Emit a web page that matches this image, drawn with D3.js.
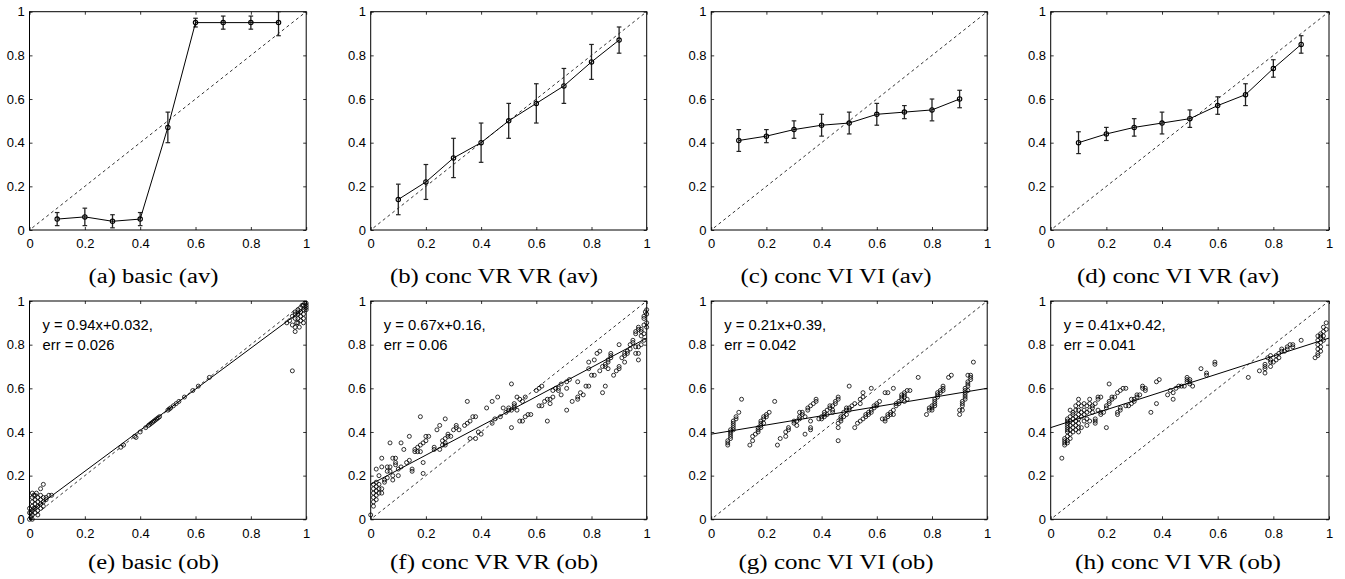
<!DOCTYPE html>
<html>
<head>
<meta charset="utf-8">
<script src="https://cdn.jsdelivr.net/npm/d3@7"></script>
<style>
  html, body { margin: 0; padding: 0; background: #fff; }
  svg { display: block; }
  .tick text { font-family: "Liberation Sans", Arial, sans-serif; font-size: 13px; fill: #000; }
  .caption { font-family: "Liberation Serif", "DejaVu Serif", serif; font-size: 20px; fill: #000; }
  .note { font-family: "Liberation Sans", Arial, sans-serif; font-size: 14.8px; fill: #000; }
</style>
</head>
<body>
<svg id="chart" width="1345" height="579"></svg>
<script>
// ---- data ----
const tickValues = [0, 0.2, 0.4, 0.6, 0.8, 1];
const tickLabels = ["0", "0.2", "0.4", "0.6", "0.8", "1"];

const avX = [0.1, 0.2, 0.3, 0.4, 0.5, 0.6, 0.7, 0.8, 0.9];

const basicAv    = [0.05, 0.06, 0.04, 0.05, 0.47, 0.95, 0.95, 0.95, 0.95];
const basicAvLo  = [0.02, 0.02, 0.01, 0.02, 0.40, 0.93, 0.92, 0.92, 0.89];
const basicAvHi  = [0.08, 0.10, 0.07, 0.08, 0.54, 0.97, 0.98, 0.98, 1.00];

const vrvrAv     = [0.14, 0.22, 0.33, 0.40, 0.50, 0.58, 0.66, 0.77, 0.87];
const vrvrAvLo   = [0.07, 0.14, 0.24, 0.31, 0.42, 0.49, 0.58, 0.69, 0.81];
const vrvrAvHi   = [0.21, 0.30, 0.42, 0.49, 0.58, 0.67, 0.74, 0.85, 0.93];

const viviAv     = [0.41, 0.43, 0.46, 0.48, 0.49, 0.53, 0.54, 0.55, 0.60];
const viviAvLo   = [0.36, 0.40, 0.42, 0.43, 0.44, 0.48, 0.51, 0.50, 0.56];
const viviAvHi   = [0.46, 0.46, 0.50, 0.53, 0.54, 0.58, 0.57, 0.60, 0.64];

const vivrAv     = [0.40, 0.44, 0.47, 0.49, 0.51, 0.57, 0.62, 0.74, 0.85];
const vivrAvLo   = [0.35, 0.41, 0.43, 0.44, 0.47, 0.53, 0.57, 0.70, 0.81];
const vivrAvHi   = [0.45, 0.47, 0.51, 0.54, 0.55, 0.61, 0.67, 0.78, 0.89];

const basicOb = [
  [0,0],[0.005,0.01],[0.01,0],[0,0.03],[0,0.05],[0.01,0.02],[0.01,0.04],[0.01,0.06],[0.01,0.08],[0.01,0.1],[0.01,0.12],
  [0.015,0.11],[0.02,0.03],[0.02,0.05],[0.02,0.07],[0.02,0.09],[0.02,0.11],[0.025,0.12],[0.03,0.02],[0.03,0.04],
  [0.03,0.06],[0.03,0.08],[0.03,0.1],[0.04,0.05],[0.04,0.07],[0.04,0.09],[0.04,0.11],[0.04,0.14],[0.05,0.16],
  [0.05,0.1],[0.05,0.08],[0.05,0.06],[0.06,0.09],[0.06,0.1],[0.07,0.11],[0.08,0.11],[0.005,0.03],[0.015,0.05],
  [0.33,0.33],[0.34,0.34],[0.38,0.38],[0.385,0.375],[0.40,0.40],[0.42,0.42],[0.43,0.43],[0.435,0.435],[0.44,0.44],
  [0.445,0.445],[0.45,0.45],[0.455,0.455],[0.46,0.46],[0.465,0.465],[0.47,0.47],[0.50,0.50],[0.505,0.505],[0.51,0.51],
  [0.52,0.52],[0.53,0.53],[0.54,0.54],[0.56,0.56],[0.59,0.59],[0.61,0.61],[0.65,0.65],
  [0.93,0.9],[0.94,0.91],[0.95,0.93],[0.95,0.89],[0.96,0.86],[0.96,0.88],[0.96,0.92],[0.96,0.94],[0.96,0.95],
  [0.965,0.9],[0.97,0.9],[0.97,0.92],[0.97,0.94],[0.97,0.95],[0.97,0.96],[0.975,0.88],[0.98,0.91],[0.98,0.93],
  [0.98,0.95],[0.98,0.97],[0.985,0.98],[0.99,0.9],[0.99,0.92],[0.99,0.94],[0.99,0.96],[0.99,0.98],[0.995,0.99],
  [1,0.96],[1,0.97],[1,0.98],[1,0.99],[0.95,0.68]
];

const vrvrOb = [
  [0,0.02],[0.01,0.06],[0.01,0.08],[0.01,0.1],[0.01,0.12],[0.01,0.14],[0.01,0.16],[0.02,0.09],[0.02,0.11],[0.02,0.13],
  [0.02,0.15],[0.02,0.17],[0.02,0.23],[0.03,0.12],[0.03,0.14],[0.03,0.16],[0.03,0.2],[0.04,0.12],[0.04,0.14],[0.04,0.28],
  [0.04,0.24],[0.05,0.17],[0.05,0.18],[0.06,0.19],[0.06,0.22],[0.06,0.24],[0.07,0.24],[0.07,0.35],[0.07,0.22],[0.08,0.18],
  [0.08,0.2],[0.08,0.28],[0.09,0.26],[0.09,0.28],[0.09,0.25],[0.1,0.2],[0.1,0.23],[0.11,0.24],[0.11,0.35],[0.12,0.32],
  [0.13,0.26],[0.14,0.27],[0.14,0.38],[0.15,0.22],[0.15,0.23],[0.16,0.31],[0.16,0.32],[0.17,0.31],[0.17,0.33],[0.18,0.31],
  [0.18,0.34],[0.18,0.47],[0.19,0.35],[0.19,0.21],[0.19,0.26],[0.2,0.38],[0.2,0.36],[0.21,0.38],[0.23,0.32],[0.23,0.33],
  [0.24,0.41],[0.25,0.32],[0.25,0.43],[0.26,0.34],[0.26,0.36],[0.27,0.35],[0.27,0.37],[0.27,0.34],[0.27,0.46],[0.28,0.38],
  [0.28,0.39],[0.29,0.38],[0.3,0.41],[0.31,0.43],[0.31,0.42],[0.32,0.41],[0.34,0.43],[0.35,0.44],[0.35,0.54],[0.36,0.45],
  [0.36,0.37],[0.37,0.47],[0.38,0.37],[0.38,0.47],[0.39,0.4],[0.4,0.39],[0.42,0.51],[0.44,0.54],[0.44,0.44],[0.45,0.46],
  [0.46,0.56],[0.47,0.47],[0.48,0.51],[0.49,0.49],[0.5,0.5],[0.5,0.51],[0.51,0.62],[0.51,0.42],[0.51,0.5],[0.52,0.52],
  [0.52,0.53],[0.52,0.51],[0.53,0.5],[0.53,0.56],[0.54,0.55],[0.54,0.45],[0.55,0.45],[0.55,0.54],[0.56,0.47],[0.56,0.56],
  [0.57,0.48],[0.58,0.48],[0.6,0.59],[0.61,0.52],[0.61,0.6],[0.62,0.61],[0.62,0.52],[0.63,0.54],[0.64,0.55],[0.64,0.45],
  [0.65,0.53],[0.65,0.55],[0.66,0.56],[0.66,0.59],[0.67,0.6],[0.68,0.6],[0.68,0.59],[0.69,0.57],[0.69,0.62],[0.71,0.5],
  [0.71,0.6],[0.71,0.63],[0.72,0.64],[0.73,0.54],[0.75,0.63],[0.75,0.55],[0.75,0.56],[0.76,0.58],[0.77,0.57],[0.78,0.61],
  [0.79,0.61],[0.79,0.69],[0.79,0.72],[0.8,0.66],[0.81,0.66],[0.81,0.73],[0.82,0.76],[0.83,0.77],[0.83,0.68],[0.84,0.58],
  [0.84,0.7],[0.85,0.61],[0.85,0.7],[0.85,0.71],[0.86,0.69],[0.86,0.73],[0.86,0.72],[0.87,0.74],[0.87,0.75],[0.87,0.76],
  [0.88,0.66],[0.89,0.68],[0.9,0.8],[0.9,0.69],[0.9,0.7],[0.91,0.74],[0.92,0.72],[0.92,0.75],[0.92,0.76],[0.93,0.76],
  [0.93,0.77],[0.94,0.78],[0.94,0.8],[0.95,0.81],[0.95,0.82],[0.96,0.76],[0.96,0.79],[0.96,0.86],[0.96,0.85],[0.97,0.73],
  [0.97,0.76],[0.97,0.79],[0.97,0.87],[0.97,0.88],[0.98,0.84],[0.98,0.86],[0.98,0.87],[0.98,0.8],[0.99,0.89],[0.99,0.82],
  [0.99,0.85],[0.99,0.92],[0.99,0.93],[1,0.94],[1,0.96],[1,0.9],[1,0.88],[0.995,0.95]
];

const viviOb = [
  [0.06,0.34],[0.06,0.35],[0.06,0.36],[0.07,0.37],[0.07,0.38],[0.07,0.39],[0.07,0.4],[0.07,0.41],[0.08,0.41],[0.08,0.42],
  [0.08,0.43],[0.08,0.44],[0.08,0.45],[0.09,0.46],[0.09,0.47],[0.1,0.49],[0.11,0.55],
  [0.14,0.34],[0.15,0.36],[0.15,0.38],[0.16,0.39],[0.17,0.4],[0.17,0.41],[0.17,0.42],[0.18,0.42],[0.18,0.43],[0.18,0.44],
  [0.18,0.45],[0.19,0.44],[0.19,0.46],[0.19,0.47],[0.2,0.47],[0.2,0.48],[0.21,0.49],
  [0.23,0.54],[0.24,0.34],[0.25,0.37],[0.27,0.38],[0.27,0.4],[0.28,0.41],[0.28,0.42],
  [0.3,0.44],[0.3,0.45],[0.31,0.43],[0.31,0.45],[0.32,0.46],[0.32,0.47],[0.32,0.49],[0.33,0.48],[0.33,0.49],[0.34,0.47],
  [0.34,0.39],[0.35,0.5],[0.35,0.51],[0.36,0.52],[0.36,0.42],[0.36,0.41],[0.36,0.45],[0.37,0.53],[0.38,0.54],[0.38,0.55],
  [0.39,0.46],[0.4,0.46],[0.4,0.47],[0.41,0.47],[0.41,0.48],[0.41,0.49],[0.42,0.5],[0.42,0.48],[0.43,0.51],[0.43,0.52],
  [0.44,0.49],[0.44,0.5],[0.44,0.52],[0.45,0.53],[0.45,0.54],[0.46,0.55],[0.46,0.56],
  [0.46,0.36],[0.46,0.42],[0.46,0.44],[0.47,0.45],[0.47,0.46],[0.47,0.47],[0.48,0.47],[0.48,0.49],[0.49,0.48],[0.49,0.5],
  [0.49,0.51],[0.5,0.5],[0.5,0.51],[0.5,0.61],[0.51,0.52],[0.52,0.42],[0.52,0.53],[0.53,0.44],[0.54,0.45],[0.54,0.53],
  [0.54,0.55],[0.55,0.46],[0.55,0.56],[0.55,0.58],[0.56,0.47],[0.56,0.48],[0.57,0.48],[0.57,0.49],[0.58,0.49],[0.58,0.5],
  [0.58,0.6],[0.59,0.51],[0.59,0.52],[0.6,0.52],[0.6,0.53],[0.61,0.54],
  [0.62,0.46],[0.63,0.45],[0.63,0.46],[0.63,0.58],[0.64,0.47],[0.64,0.48],[0.64,0.58],[0.65,0.48],[0.65,0.49],[0.66,0.48],
  [0.66,0.5],[0.66,0.6],[0.67,0.52],[0.67,0.53],[0.68,0.53],[0.68,0.54],[0.69,0.55],[0.69,0.56],[0.69,0.57],[0.7,0.54],
  [0.7,0.56],[0.7,0.57],[0.7,0.58],[0.71,0.55],[0.71,0.59],[0.72,0.59],[0.75,0.65],
  [0.78,0.48],[0.79,0.5],[0.79,0.51],[0.8,0.5],[0.8,0.51],[0.8,0.52],[0.81,0.52],[0.81,0.53],[0.81,0.54],[0.81,0.55],
  [0.82,0.56],[0.82,0.57],[0.82,0.58],[0.83,0.58],[0.83,0.59],[0.84,0.59],[0.84,0.6],[0.84,0.61],[0.86,0.65],[0.87,0.66],
  [0.9,0.48],[0.9,0.5],[0.91,0.5],[0.91,0.52],[0.91,0.53],[0.91,0.54],[0.92,0.55],[0.92,0.56],[0.92,0.57],[0.92,0.58],
  [0.92,0.59],[0.92,0.6],[0.93,0.59],[0.93,0.61],[0.93,0.62],[0.93,0.63],[0.93,0.66],[0.94,0.64],[0.94,0.65],[0.94,0.66],
  [0.95,0.72]
];

const vivrOb = [
  [0.04,0.28],[0.05,0.34],[0.05,0.35],[0.05,0.36],[0.05,0.37],[0.06,0.35],[0.06,0.36],[0.06,0.38],[0.06,0.4],[0.06,0.41],
  [0.06,0.42],[0.06,0.43],[0.06,0.44],[0.06,0.45],[0.06,0.46],[0.07,0.37],[0.07,0.39],[0.07,0.41],[0.07,0.43],[0.07,0.45],
  [0.07,0.47],[0.07,0.5],[0.08,0.4],[0.08,0.42],[0.08,0.44],[0.08,0.46],[0.08,0.48],[0.08,0.49],[0.09,0.41],[0.09,0.43],
  [0.09,0.45],[0.09,0.47],[0.09,0.5],[0.09,0.52],[0.1,0.4],[0.1,0.42],[0.1,0.44],[0.1,0.46],[0.1,0.48],[0.1,0.5],
  [0.1,0.53],[0.1,0.55],[0.11,0.42],[0.11,0.47],[0.11,0.49],[0.11,0.52],[0.12,0.45],[0.12,0.48],[0.12,0.5],[0.12,0.53],
  [0.13,0.43],[0.13,0.46],[0.13,0.49],[0.13,0.52],[0.14,0.45],[0.14,0.5],[0.14,0.53],[0.14,0.55],[0.15,0.49],[0.15,0.51],
  [0.15,0.52],[0.16,0.44],[0.16,0.45],[0.16,0.46],[0.16,0.53],[0.17,0.5],[0.17,0.55],[0.17,0.56],[0.18,0.48],[0.18,0.49],
  [0.18,0.56],[0.19,0.49],[0.2,0.42],[0.2,0.51],[0.2,0.52],[0.21,0.53],[0.21,0.62],[0.21,0.54],[0.22,0.55],[0.22,0.56],
  [0.23,0.56],[0.24,0.48],[0.24,0.49],[0.24,0.58],[0.25,0.5],[0.25,0.51],[0.25,0.59],[0.26,0.6],[0.27,0.6],[0.27,0.52],
  [0.28,0.52],[0.29,0.53],[0.29,0.55],[0.3,0.54],[0.3,0.55],[0.31,0.56],[0.31,0.57],[0.32,0.57],[0.33,0.6],[0.33,0.61],
  [0.34,0.59],[0.34,0.6],[0.36,0.49],[0.38,0.53],[0.38,0.63],[0.39,0.64],[0.42,0.57],[0.43,0.59],[0.44,0.55],[0.44,0.58],
  [0.45,0.6],[0.46,0.61],[0.47,0.61],[0.48,0.61],[0.49,0.63],[0.49,0.64],[0.49,0.65],[0.5,0.62],[0.5,0.63],[0.5,0.64],
  [0.51,0.61],[0.54,0.69],[0.56,0.66],[0.56,0.67],[0.59,0.71],[0.59,0.72],[0.71,0.65],[0.75,0.68],[0.77,0.67],[0.77,0.69],
  [0.77,0.7],[0.77,0.71],[0.78,0.74],[0.79,0.7],[0.79,0.72],[0.79,0.73],[0.79,0.75],[0.8,0.72],[0.81,0.73],[0.81,0.75],
  [0.82,0.74],[0.82,0.76],[0.83,0.77],[0.83,0.78],[0.84,0.77],[0.85,0.78],[0.85,0.79],[0.86,0.8],[0.87,0.8],[0.87,0.79],
  [0.9,0.82],[0.95,0.74],[0.96,0.75],[0.96,0.76],[0.96,0.78],[0.96,0.8],[0.96,0.82],[0.96,0.84],[0.97,0.77],[0.97,0.79],
  [0.97,0.81],[0.97,0.83],[0.97,0.84],[0.97,0.85],[0.98,0.82],[0.98,0.84],[0.98,0.86],[0.98,0.88],[0.99,0.87],[0.99,0.9]
];

const fitSlope     = [0.94, 0.67, 0.21, 0.41];
const fitIntercept = [0.032, 0.16, 0.39, 0.42];
const fitErr       = ["0.026", "0.06", "0.042", "0.041"];

const topCaptions    = ["(a) basic (av)", "(b) conc VR VR (av)", "(c) conc VI VI (av)", "(d) conc VI VR (av)"];
const bottomCaptions = ["(e) basic (ob)", "(f) conc VR VR (ob)", "(g) conc VI VI (ob)", "(h) conc VI VR (ob)"];

// ---- layout ----
const svg = d3.select("#chart");
const colLeft  = [29.5, 370.7, 711.2, 1050.7];
const colRight = [306.2, 646.7, 987.2, 1329];
const rowTop = [11.7, 301];
const rowBottom = [230, 519.3];
const captionX = [153.5, 494, 836, 1178];
const topCaptionWidth = [130, 208, 191, 202];
const bottomCaptionWidth = [131, 208, 195, 206];
const captionY = [282.5, 569];

function panel(col, row) {
  const x = d3.scaleLinear().domain([0, 1]).range([colLeft[col], colRight[col]]);
  const y = d3.scaleLinear().domain([0, 1]).range([rowBottom[row], rowTop[row]]);
  const g = svg.append("g");
  const fmt = (d) => tickLabels[tickValues.indexOf(d)];

  // inward ticks on all four sides, labels on left and bottom
  const bottom = g.append("g").attr("transform", `translate(0,${rowBottom[row]})`)
    .call(d3.axisBottom(x).tickValues(tickValues).tickFormat(fmt).tickSizeInner(-3).tickSizeOuter(0).tickPadding(6));
  const left = g.append("g").attr("transform", `translate(${colLeft[col]},0)`)
    .call(d3.axisLeft(y).tickValues(tickValues).tickFormat(fmt).tickSizeInner(-3).tickSizeOuter(0).tickPadding(6));
  g.append("g").attr("transform", `translate(0,${rowTop[row]})`)
    .call(d3.axisTop(x).tickValues(tickValues).tickFormat("").tickSizeInner(-3).tickSizeOuter(0));
  g.append("g").attr("transform", `translate(${colRight[col]},0)`)
    .call(d3.axisRight(y).tickValues(tickValues).tickFormat("").tickSizeInner(-3).tickSizeOuter(0));
  g.selectAll(".domain").remove();
  g.selectAll(".tick line").attr("stroke", "#000").attr("stroke-width", 0.8);
  bottom.selectAll(".tick text").attr("dy", "0.95em");
  left.selectAll(".tick text").attr("dx", "0.1em");

  g.append("rect")
    .attr("x", x(0)).attr("y", y(1))
    .attr("width", x(1) - x(0)).attr("height", y(0) - y(1))
    .attr("fill", "none").attr("stroke", "#000").attr("stroke-width", 1);

  // identity diagonal
  g.append("line")
    .attr("x1", x(0.01)).attr("y1", y(0.01)).attr("x2", x(1)).attr("y2", y(1))
    .attr("stroke", "#000").attr("stroke-width", 0.8).attr("stroke-dasharray", "3,3");
  return { g, x, y };
}

function caption(col, row, label, width) {
  svg.append("text").attr("class", "caption").attr("text-anchor", "middle")
    .attr("x", captionX[col]).attr("y", captionY[row])
    .attr("textLength", width).attr("lengthAdjust", "spacingAndGlyphs")
    .text(label);
}

function averagePanel(col, vals, lo, hi) {
  const { g, x, y } = panel(col, 0);
  const cap = 2.3;
  avX.forEach((xv, i) => {
    g.append("line").attr("x1", x(xv)).attr("x2", x(xv)).attr("y1", y(lo[i])).attr("y2", y(hi[i]))
      .attr("stroke", "#222").attr("stroke-width", 1.3);
    [lo[i], hi[i]].forEach(v => {
      g.append("line").attr("x1", x(xv) - cap).attr("x2", x(xv) + cap).attr("y1", y(v)).attr("y2", y(v))
        .attr("stroke", "#222").attr("stroke-width", 1.2);
    });
  });
  g.append("path")
    .datum(avX.map((xv, i) => [xv, vals[i]]))
    .attr("d", d3.line().x(d => x(d[0])).y(d => y(d[1])))
    .attr("fill", "none").attr("stroke", "#000").attr("stroke-width", 1);
  g.selectAll("circle.m").data(avX.map((xv, i) => [xv, vals[i]])).enter().append("circle")
    .attr("cx", d => x(d[0])).attr("cy", d => y(d[1])).attr("r", 2.2)
    .attr("fill", "none").attr("stroke", "#000").attr("stroke-width", 1.1);
  caption(col, 0, topCaptions[col], topCaptionWidth[col]);
}

function observedPanel(col, pts) {
  const { g, x, y } = panel(col, 1);
  g.selectAll("circle.p").data(pts).enter().append("circle")
    .attr("cx", d => x(d[0])).attr("cy", d => y(d[1])).attr("r", 2)
    .attr("fill", "none").attr("stroke", "#000").attr("stroke-width", 0.8);
  g.append("line")
    .attr("x1", x(0)).attr("y1", y(fitIntercept[col]))
    .attr("x2", x(1)).attr("y2", y(fitSlope[col] + fitIntercept[col]))
    .attr("stroke", "#000").attr("stroke-width", 1);
  g.append("text").attr("class", "note").attr("x", x(0) + 13).attr("y", y(1) + 29)
    .text(`y = ${fitSlope[col]}x+${fitIntercept[col]},`);
  g.append("text").attr("class", "note").attr("x", x(0) + 13).attr("y", y(1) + 49)
    .text(`err = ${fitErr[col]}`);
  caption(col, 1, bottomCaptions[col], bottomCaptionWidth[col]);
}

averagePanel(0, basicAv, basicAvLo, basicAvHi);
averagePanel(1, vrvrAv, vrvrAvLo, vrvrAvHi);
averagePanel(2, viviAv, viviAvLo, viviAvHi);
averagePanel(3, vivrAv, vivrAvLo, vivrAvHi);

observedPanel(0, basicOb);
observedPanel(1, vrvrOb);
observedPanel(2, viviOb);
observedPanel(3, vivrOb);
</script>
</body>
</html>
